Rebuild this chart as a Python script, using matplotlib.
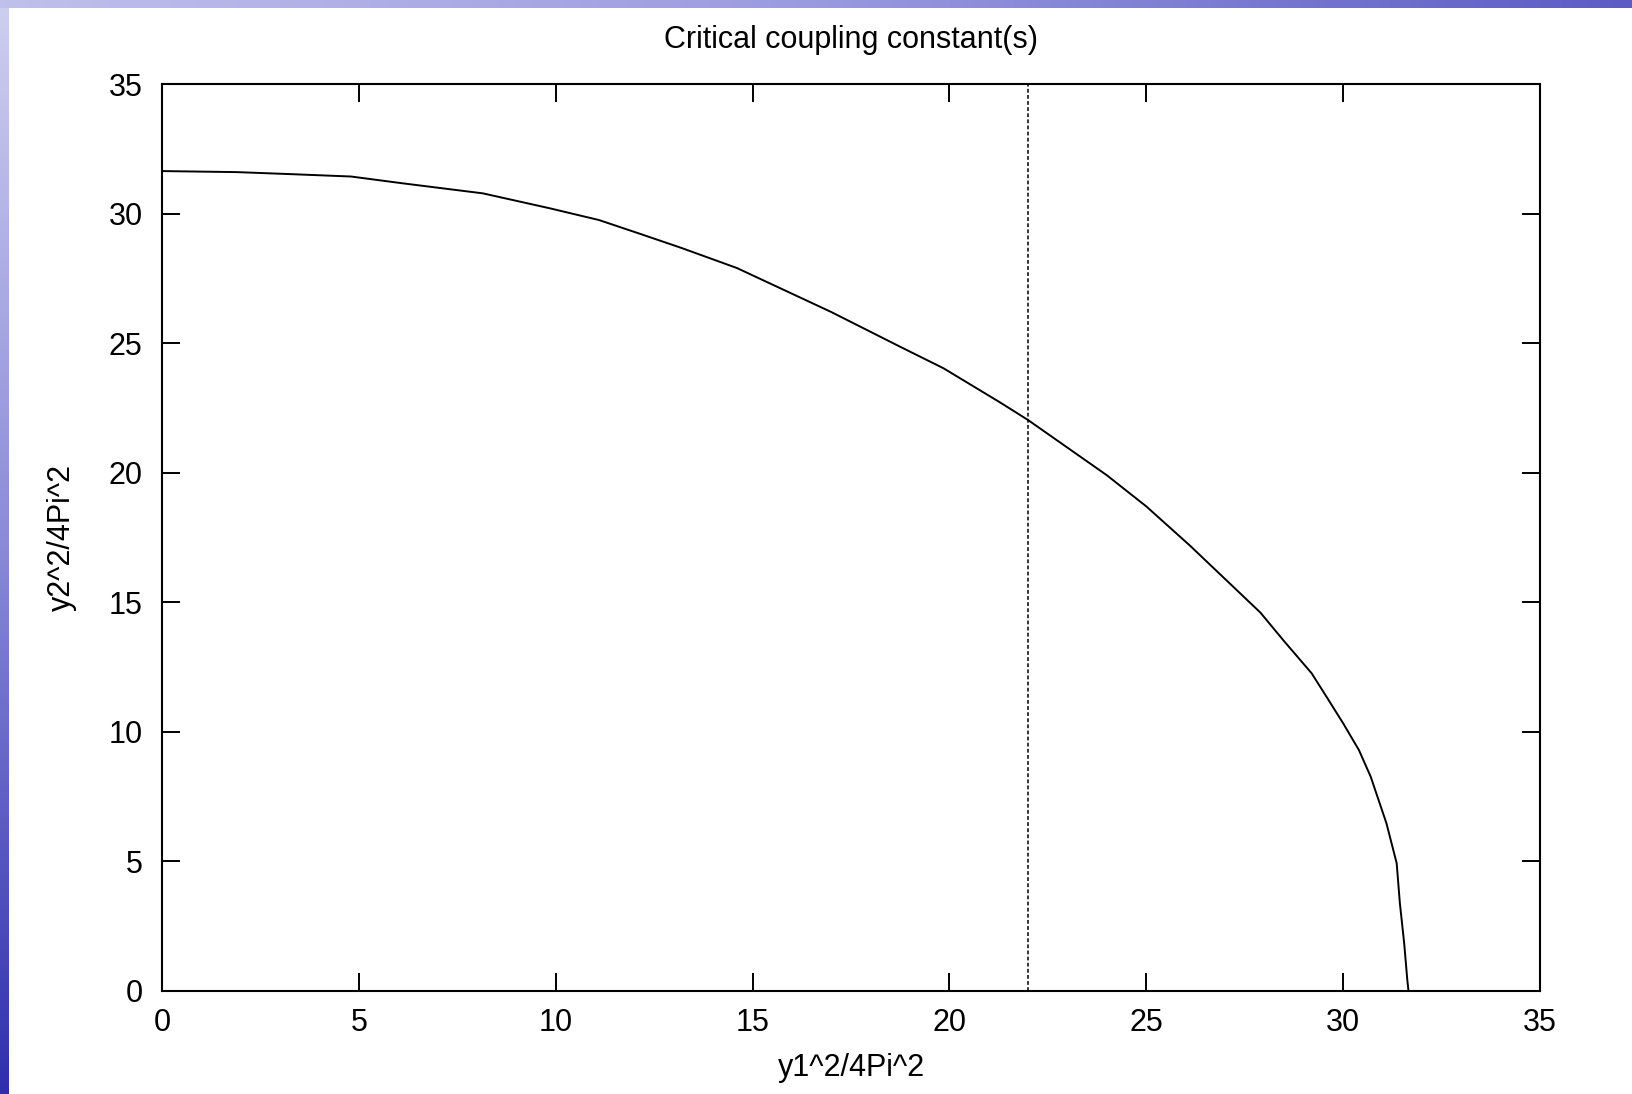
import numpy as np
import matplotlib
matplotlib.use("Agg")
import matplotlib.pyplot as plt

plt.rcParams['font.family'] = ['Liberation Sans', 'DejaVu Sans']

# critical curve
y1_vals = [0.0, 1.9, 3.3, 4.8, 6.1, 8.15, 9.86, 11.1, 12.1, 13.2, 14.6, 17.0,
           18.75, 19.85, 21.3, 22.0, 24.0, 25.0, 26.1, 27.9, 28.5, 29.2, 29.6, 30.0,
           30.4, 30.7, 30.9, 31.1, 31.36, 31.44, 31.55, 31.63, 31.66]
y2_vals = [31.64, 31.6, 31.52, 31.43, 31.17, 30.78, 30.2, 29.75, 29.24, 28.67, 27.9, 26.2,
           24.86, 24.03, 22.7, 22.03, 19.9, 18.7, 17.2, 14.6, 13.5, 12.26, 11.3, 10.33,
           9.3, 8.27, 7.37, 6.47, 4.93, 3.4, 1.85, 0.42, 0.0]
vline_x = 22.0
ticks = [0, 5, 10, 15, 20, 25, 30, 35]

fig = plt.figure(figsize=(16.32, 10.94), dpi=100)
fig.patch.set_facecolor('white')

# blue slide border on the left and top
left_strip = fig.add_axes([0, 0, 9 / 1632, 1])
grad = np.linspace(0, 1, 256).reshape(-1, 1)
cm_left = matplotlib.colors.LinearSegmentedColormap.from_list('l', ['#cfcff0', '#8a8ad8', '#2f2fae'])
left_strip.imshow(grad, aspect='auto', cmap=cm_left)
left_strip.axis('off')
top_strip = fig.add_axes([0, 1 - 8 / 1094, 1, 8 / 1094])
cm_top = matplotlib.colors.LinearSegmentedColormap.from_list('t', ['#c0c0ec', '#9a9ae0', '#5c5cc4'])
top_strip.imshow(grad.T, aspect='auto', cmap=cm_top)
top_strip.axis('off')

ax = fig.add_axes([162 / 1632, 1 - 991 / 1094, (1540 - 162) / 1632, (991 - 84) / 1094])
ax.plot(y1_vals, y2_vals, color='black', lw=1.4)
ax.axvline(vline_x, color='black', lw=1.1, ls=(0, (2.5, 1.5)))

ax.set_xlim(0, 35)
ax.set_ylim(0, 35)
ax.set_xticks(ticks)
ax.set_yticks(ticks)
ax.tick_params(direction='in', length=13, width=1.4, top=True, right=True,
               labelsize=22, colors='black', pad=12)
ax.tick_params(axis='y', pad=14)
for s in ax.spines.values():
    s.set_linewidth(1.5)

ax.set_title('Critical coupling constant(s)', fontsize=22, pad=26)
ax.set_xlabel('y1^2/4Pi^2', fontsize=22, labelpad=11)
ax.set_ylabel('y2^2/4Pi^2', fontsize=22, labelpad=23)

fig.savefig('out.png', dpi=100)
